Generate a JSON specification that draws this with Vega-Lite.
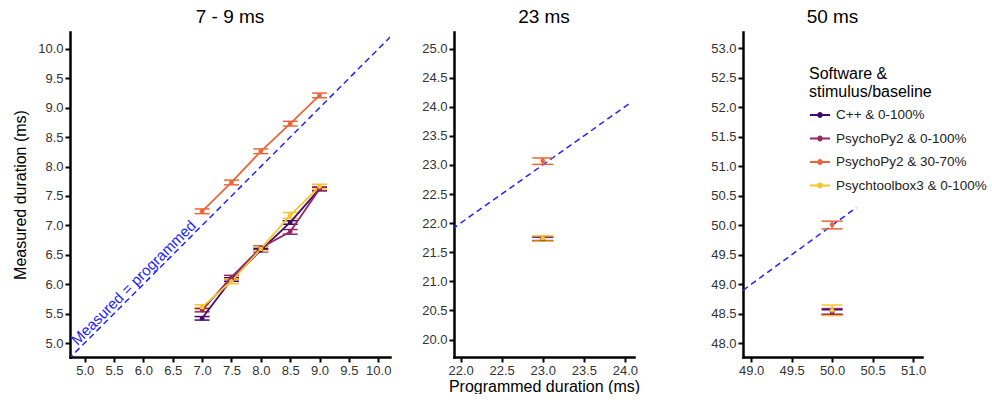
{
  "$schema": "https://vega.github.io/schema/vega-lite/v6.json",
  "padding": {"left": 12, "top": 8, "right": 0, "bottom": 0},
  "config": {
    "view": {"stroke": null},
    "font": "Liberation Sans",
    "title": {"fontSize": 19, "fontWeight": "normal", "color": "black", "offset": 5, "anchor": "middle"},
    "axis": {"grid": false, "labelOverlap": false, "domainColor": "black", "domainWidth": 2.5, "domainCap": "square", "tickColor": "black", "tickWidth": 2, "tickSize": 5, "labelColor": "#333333", "labelFontSize": 13, "titleFontSize": 16, "titleFontWeight": "normal", "titleColor": "black"},
    "axisX": {"labelPadding": 2, "titlePadding": 1},
    "axisY": {"labelPadding": 2, "titlePadding": 9},
    "tick": {"opacity": 1},
    "rule": {"opacity": 1}
  },
  "datasets": {
    "obs": [
      {"panel": "p1", "software": "C++ & 0-100%", "programmed": 7.0, "measured": 5.42, "lo": 5.39, "hi": 5.45},
      {"panel": "p1", "software": "C++ & 0-100%", "programmed": 7.5, "measured": 6.08, "lo": 6.05, "hi": 6.11},
      {"panel": "p1", "software": "C++ & 0-100%", "programmed": 8.0, "measured": 6.58, "lo": 6.55, "hi": 6.61},
      {"panel": "p1", "software": "C++ & 0-100%", "programmed": 8.5, "measured": 7.05, "lo": 7.02, "hi": 7.08},
      {"panel": "p1", "software": "C++ & 0-100%", "programmed": 9.0, "measured": 7.62, "lo": 7.59, "hi": 7.65},
      {"panel": "p1", "software": "PsychoPy2 & 0-100%", "programmed": 7.0, "measured": 5.56, "lo": 5.53, "hi": 5.59},
      {"panel": "p1", "software": "PsychoPy2 & 0-100%", "programmed": 7.5, "measured": 6.12, "lo": 6.09, "hi": 6.15},
      {"panel": "p1", "software": "PsychoPy2 & 0-100%", "programmed": 8.0, "measured": 6.62, "lo": 6.59, "hi": 6.65},
      {"panel": "p1", "software": "PsychoPy2 & 0-100%", "programmed": 8.5, "measured": 6.89, "lo": 6.85, "hi": 6.93},
      {"panel": "p1", "software": "PsychoPy2 & 0-100%", "programmed": 9.0, "measured": 7.62, "lo": 7.59, "hi": 7.65},
      {"panel": "p1", "software": "PsychoPy2 & 30-70%", "programmed": 7.0, "measured": 7.24, "lo": 7.2, "hi": 7.28},
      {"panel": "p1", "software": "PsychoPy2 & 30-70%", "programmed": 7.5, "measured": 7.73, "lo": 7.69, "hi": 7.77},
      {"panel": "p1", "software": "PsychoPy2 & 30-70%", "programmed": 8.0, "measured": 8.26, "lo": 8.22, "hi": 8.3},
      {"panel": "p1", "software": "PsychoPy2 & 30-70%", "programmed": 8.5, "measured": 8.73, "lo": 8.69, "hi": 8.77},
      {"panel": "p1", "software": "PsychoPy2 & 30-70%", "programmed": 9.0, "measured": 9.21, "lo": 9.17, "hi": 9.25},
      {"panel": "p1", "software": "Psychtoolbox3 & 0-100%", "programmed": 7.0, "measured": 5.61, "lo": 5.57, "hi": 5.65},
      {"panel": "p1", "software": "Psychtoolbox3 & 0-100%", "programmed": 7.5, "measured": 6.05, "lo": 6.01, "hi": 6.09},
      {"panel": "p1", "software": "Psychtoolbox3 & 0-100%", "programmed": 8.0, "measured": 6.6, "lo": 6.56, "hi": 6.64},
      {"panel": "p1", "software": "Psychtoolbox3 & 0-100%", "programmed": 8.5, "measured": 7.17, "lo": 7.12, "hi": 7.22},
      {"panel": "p1", "software": "Psychtoolbox3 & 0-100%", "programmed": 9.0, "measured": 7.66, "lo": 7.62, "hi": 7.7},
      {"panel": "p2", "software": "C++ & 0-100%", "programmed": 23.0, "measured": 21.73, "lo": 21.7, "hi": 21.76},
      {"panel": "p2", "software": "PsychoPy2 & 0-100%", "programmed": 23.0, "measured": 21.73, "lo": 21.69, "hi": 21.77},
      {"panel": "p2", "software": "PsychoPy2 & 30-70%", "programmed": 23.0, "measured": 23.07, "lo": 23.01, "hi": 23.12},
      {"panel": "p2", "software": "Psychtoolbox3 & 0-100%", "programmed": 23.0, "measured": 21.74, "lo": 21.69, "hi": 21.78},
      {"panel": "p3", "software": "C++ & 0-100%", "programmed": 50.0, "measured": 48.53, "lo": 48.49, "hi": 48.57},
      {"panel": "p3", "software": "PsychoPy2 & 0-100%", "programmed": 50.0, "measured": 48.54, "lo": 48.49, "hi": 48.59},
      {"panel": "p3", "software": "PsychoPy2 & 30-70%", "programmed": 50.0, "measured": 50.01, "lo": 49.94, "hi": 50.07},
      {"panel": "p3", "software": "Psychtoolbox3 & 0-100%", "programmed": 50.0, "measured": 48.56, "lo": 48.47, "hi": 48.65}
    ],
    "ref": [
      {"panel": "p1", "v": 4.6}, {"panel": "p1", "v": 10.4},
      {"panel": "p2", "v": 21.8}, {"panel": "p2", "v": 24.07},
      {"panel": "p3", "v": 48.8}, {"panel": "p3", "v": 50.3}
    ],
    "annot": [
      {"panel": "p1", "v": 5.93, "label": "Measured = programmed"}
    ]
  },
  "resolve": {"legend": {"color": "independent"}},
  "spacing": 10,
  "bounds": "flush",
  "hconcat": [
    {
      "width": 320, "height": 325,
      "title": "7 - 9 ms",
      "layer": [
        {
          "data": {"name": "ref"},
          "transform": [{"filter": "datum.panel == 'p1'"}],
          "mark": {"type": "line", "clip": true, "color": "#2222ff", "strokeDash": [6, 4], "strokeWidth": 1.5},
          "encoding": {
            "x": {"field": "v", "type": "quantitative", "title": null, "scale": {"domain": [4.75, 10.2], "nice": false, "zero": false}, "axis": {"values": [5, 5.5, 6, 6.5, 7, 7.5, 8, 8.5, 9, 9.5, 10], "format": ".1f", "labelOverlap": false}},
            "y": {"field": "v", "type": "quantitative", "title": "Measured duration (ms)", "scale": {"domain": [4.762, 10.289], "nice": false, "zero": false}, "axis": {"values": [5, 5.5, 6, 6.5, 7, 7.5, 8, 8.5, 9, 9.5, 10], "format": ".1f", "labelOverlap": false}}
          }
        },
        {
          "data": {"name": "annot"},
          "mark": {"type": "text", "color": "#2222ff", "fontSize": 15, "angle": 315, "align": "center", "baseline": "alphabetic", "dy": -3},
          "encoding": {
            "x": {"field": "v", "type": "quantitative", "title": null, "axis": {"values": [5, 5.5, 6, 6.5, 7, 7.5, 8, 8.5, 9, 9.5, 10], "format": ".1f", "labelOverlap": false}},
            "y": {"field": "v", "type": "quantitative", "title": "Measured duration (ms)", "axis": {"values": [5, 5.5, 6, 6.5, 7, 7.5, 8, 8.5, 9, 9.5, 10], "format": ".1f", "labelOverlap": false}},
            "text": {"field": "label"}
          }
        },
        {
          "data": {"name": "obs"},
          "transform": [{"filter": "datum.panel == 'p1'"}],
          "mark": {"type": "rule", "strokeWidth": 1.5},
          "encoding": {
            "x": {"field": "programmed", "type": "quantitative", "title": null, "axis": {"values": [5, 5.5, 6, 6.5, 7, 7.5, 8, 8.5, 9, 9.5, 10], "format": ".1f", "labelOverlap": false}},
            "y": {"field": "lo", "type": "quantitative", "title": "Measured duration (ms)", "axis": {"values": [5, 5.5, 6, 6.5, 7, 7.5, 8, 8.5, 9, 9.5, 10], "format": ".1f", "labelOverlap": false}},
            "y2": {"field": "hi"},
            "color": {"field": "software", "type": "nominal", "legend": null, "scale": {"domain": ["C++ & 0-100%", "PsychoPy2 & 0-100%", "PsychoPy2 & 30-70%", "Psychtoolbox3 & 0-100%"], "range": ["#420a68", "#932667", "#e9663a", "#f7c42c"]}}
          }
        },
        {
          "data": {"name": "obs"},
          "transform": [{"filter": "datum.panel == 'p1'"}],
          "mark": {"type": "tick", "orient": "horizontal", "thickness": 1.5, "size": 15},
          "encoding": {
            "x": {"field": "programmed", "type": "quantitative", "title": null, "axis": {"values": [5, 5.5, 6, 6.5, 7, 7.5, 8, 8.5, 9, 9.5, 10], "format": ".1f", "labelOverlap": false}},
            "y": {"field": "lo", "type": "quantitative", "title": "Measured duration (ms)", "axis": {"values": [5, 5.5, 6, 6.5, 7, 7.5, 8, 8.5, 9, 9.5, 10], "format": ".1f", "labelOverlap": false}},
            "color": {"field": "software", "type": "nominal", "legend": null}
          }
        },
        {
          "data": {"name": "obs"},
          "transform": [{"filter": "datum.panel == 'p1'"}],
          "mark": {"type": "tick", "orient": "horizontal", "thickness": 1.5, "size": 15},
          "encoding": {
            "x": {"field": "programmed", "type": "quantitative", "title": null, "axis": {"values": [5, 5.5, 6, 6.5, 7, 7.5, 8, 8.5, 9, 9.5, 10], "format": ".1f", "labelOverlap": false}},
            "y": {"field": "hi", "type": "quantitative", "title": "Measured duration (ms)", "axis": {"values": [5, 5.5, 6, 6.5, 7, 7.5, 8, 8.5, 9, 9.5, 10], "format": ".1f", "labelOverlap": false}},
            "color": {"field": "software", "type": "nominal", "legend": null}
          }
        },
        {
          "data": {"name": "obs"},
          "transform": [{"filter": "datum.panel == 'p1'"}],
          "mark": {"type": "line", "strokeWidth": 1.8},
          "encoding": {
            "x": {"field": "programmed", "type": "quantitative", "title": null, "axis": {"values": [5, 5.5, 6, 6.5, 7, 7.5, 8, 8.5, 9, 9.5, 10], "format": ".1f", "labelOverlap": false}},
            "y": {"field": "measured", "type": "quantitative", "title": "Measured duration (ms)", "axis": {"values": [5, 5.5, 6, 6.5, 7, 7.5, 8, 8.5, 9, 9.5, 10], "format": ".1f", "labelOverlap": false}},
            "color": {"field": "software", "type": "nominal", "legend": null}
          }
        },
        {
          "data": {"name": "obs"},
          "transform": [{"filter": "datum.panel == 'p1'"}],
          "mark": {"type": "point", "filled": true, "size": 22, "opacity": 1},
          "encoding": {
            "x": {"field": "programmed", "type": "quantitative", "title": null, "axis": {"values": [5, 5.5, 6, 6.5, 7, 7.5, 8, 8.5, 9, 9.5, 10], "format": ".1f", "labelOverlap": false}},
            "y": {"field": "measured", "type": "quantitative", "title": "Measured duration (ms)", "axis": {"values": [5, 5.5, 6, 6.5, 7, 7.5, 8, 8.5, 9, 9.5, 10], "format": ".1f", "labelOverlap": false}},
            "color": {"field": "software", "type": "nominal", "legend": null}
          }
        }
      ]
    },
    {"width": 44, "height": 325, "data": {"values": []}, "mark": "point"},
    {
      "width": 180, "height": 325,
      "title": "23 ms",
      "layer": [
        {
          "data": {"name": "ref"},
          "transform": [{"filter": "datum.panel == 'p2'"}],
          "mark": {"type": "line", "clip": true, "color": "#2222ff", "strokeDash": [6, 4], "strokeWidth": 1.5},
          "encoding": {
            "x": {"field": "v", "type": "quantitative", "title": "Programmed duration (ms)", "scale": {"domain": [21.92, 24.11], "nice": false, "zero": false}, "axis": {"values": [22, 22.5, 23, 23.5, 24], "format": ".1f", "labelOverlap": false}},
            "y": {"field": "v", "type": "quantitative", "title": null, "scale": {"domain": [19.7, 25.284], "nice": false, "zero": false}, "axis": {"values": [20, 20.5, 21, 21.5, 22, 22.5, 23, 23.5, 24, 24.5, 25], "format": ".1f", "labelOverlap": false}}
          }
        },
        {
          "data": {"name": "obs"},
          "transform": [{"filter": "datum.panel == 'p2'"}],
          "mark": {"type": "rule", "strokeWidth": 1.5},
          "encoding": {
            "x": {"field": "programmed", "type": "quantitative", "title": "Programmed duration (ms)", "axis": {"values": [22, 22.5, 23, 23.5, 24], "format": ".1f", "labelOverlap": false}},
            "y": {"field": "lo", "type": "quantitative", "title": null, "axis": {"values": [20, 20.5, 21, 21.5, 22, 22.5, 23, 23.5, 24, 24.5, 25], "format": ".1f", "labelOverlap": false}},
            "y2": {"field": "hi"},
            "color": {"field": "software", "type": "nominal", "legend": null}
          }
        },
        {
          "data": {"name": "obs"},
          "transform": [{"filter": "datum.panel == 'p2'"}],
          "mark": {"type": "tick", "orient": "horizontal", "thickness": 1.5, "size": 21},
          "encoding": {
            "x": {"field": "programmed", "type": "quantitative", "title": "Programmed duration (ms)", "axis": {"values": [22, 22.5, 23, 23.5, 24], "format": ".1f", "labelOverlap": false}},
            "y": {"field": "lo", "type": "quantitative", "title": null, "axis": {"values": [20, 20.5, 21, 21.5, 22, 22.5, 23, 23.5, 24, 24.5, 25], "format": ".1f", "labelOverlap": false}},
            "color": {"field": "software", "type": "nominal", "legend": null}
          }
        },
        {
          "data": {"name": "obs"},
          "transform": [{"filter": "datum.panel == 'p2'"}],
          "mark": {"type": "tick", "orient": "horizontal", "thickness": 1.5, "size": 21},
          "encoding": {
            "x": {"field": "programmed", "type": "quantitative", "title": "Programmed duration (ms)", "axis": {"values": [22, 22.5, 23, 23.5, 24], "format": ".1f", "labelOverlap": false}},
            "y": {"field": "hi", "type": "quantitative", "title": null, "axis": {"values": [20, 20.5, 21, 21.5, 22, 22.5, 23, 23.5, 24, 24.5, 25], "format": ".1f", "labelOverlap": false}},
            "color": {"field": "software", "type": "nominal", "legend": null}
          }
        },
        {
          "data": {"name": "obs"},
          "transform": [{"filter": "datum.panel == 'p2'"}],
          "mark": {"type": "point", "filled": true, "size": 22, "opacity": 1},
          "encoding": {
            "x": {"field": "programmed", "type": "quantitative", "title": "Programmed duration (ms)", "axis": {"values": [22, 22.5, 23, 23.5, 24], "format": ".1f", "labelOverlap": false}},
            "y": {"field": "measured", "type": "quantitative", "title": null, "axis": {"values": [20, 20.5, 21, 21.5, 22, 22.5, 23, 23.5, 24, 24.5, 25], "format": ".1f", "labelOverlap": false}},
            "color": {"field": "software", "type": "nominal", "legend": null}
          }
        }
      ]
    },
    {"width": 89, "height": 325, "data": {"values": []}, "mark": "point"},
    {
      "width": 179, "height": 325,
      "title": "50 ms",
      "layer": [
        {
          "data": {"name": "ref"},
          "transform": [{"filter": "datum.panel == 'p3'"}],
          "mark": {"type": "line", "clip": true, "color": "#2222ff", "strokeDash": [6, 4], "strokeWidth": 1.5},
          "encoding": {
            "x": {"field": "v", "type": "quantitative", "title": null, "scale": {"domain": [48.9, 51.11], "nice": false, "zero": false}, "axis": {"values": [49, 49.5, 50, 50.5, 51], "format": ".1f", "labelOverlap": false}},
            "y": {"field": "v", "type": "quantitative", "title": null, "scale": {"domain": [47.77, 53.273], "nice": false, "zero": false}, "axis": {"values": [48, 48.5, 49, 49.5, 50, 50.5, 51, 51.5, 52, 52.5, 53], "format": ".1f", "labelOverlap": false}}
          }
        },
        {
          "data": {"name": "obs"},
          "transform": [{"filter": "datum.panel == 'p3'"}],
          "mark": {"type": "rule", "strokeWidth": 1.5},
          "encoding": {
            "x": {"field": "programmed", "type": "quantitative", "title": null, "axis": {"values": [49, 49.5, 50, 50.5, 51], "format": ".1f", "labelOverlap": false}},
            "y": {"field": "lo", "type": "quantitative", "title": null, "axis": {"values": [48, 48.5, 49, 49.5, 50, 50.5, 51, 51.5, 52, 52.5, 53], "format": ".1f", "labelOverlap": false}},
            "y2": {"field": "hi"},
            "color": {
              "field": "software", "type": "nominal",
              "legend": {
                "orient": "none", "legendX": 66, "legendY": 34,
                "title": ["Software &", "stimulus/baseline"],
                "titleFontSize": 16, "titleFontWeight": "normal", "titleColor": "black", "titleLineHeight": 18, "titlePadding": 4,
                "labelFontSize": 13.5, "labelColor": "#222222", "labelOffset": 5,
                "symbolType": "M-1,0L1,0M-0.2,0A0.2,0.2,0,1,1,0.2,0A0.2,0.2,0,1,1,-0.2,0Z",
                "symbolSize": 400, "symbolStrokeWidth": 1.8, "rowPadding": 5.5, "padding": 0,
                "encode": {"symbols": {"update": {"fill": {"scale": "color", "field": "value"}, "stroke": {"scale": "color", "field": "value"}, "opacity": {"value": 1}}}}
              }
            }
          }
        },
        {
          "data": {"name": "obs"},
          "transform": [{"filter": "datum.panel == 'p3'"}],
          "mark": {"type": "tick", "orient": "horizontal", "thickness": 1.5, "size": 21},
          "encoding": {
            "x": {"field": "programmed", "type": "quantitative", "title": null, "axis": {"values": [49, 49.5, 50, 50.5, 51], "format": ".1f", "labelOverlap": false}},
            "y": {"field": "lo", "type": "quantitative", "title": null, "axis": {"values": [48, 48.5, 49, 49.5, 50, 50.5, 51, 51.5, 52, 52.5, 53], "format": ".1f", "labelOverlap": false}},
            "color": {"field": "software", "type": "nominal"}
          }
        },
        {
          "data": {"name": "obs"},
          "transform": [{"filter": "datum.panel == 'p3'"}],
          "mark": {"type": "tick", "orient": "horizontal", "thickness": 1.5, "size": 21},
          "encoding": {
            "x": {"field": "programmed", "type": "quantitative", "title": null, "axis": {"values": [49, 49.5, 50, 50.5, 51], "format": ".1f", "labelOverlap": false}},
            "y": {"field": "hi", "type": "quantitative", "title": null, "axis": {"values": [48, 48.5, 49, 49.5, 50, 50.5, 51, 51.5, 52, 52.5, 53], "format": ".1f", "labelOverlap": false}},
            "color": {"field": "software", "type": "nominal"}
          }
        },
        {
          "data": {"name": "obs"},
          "transform": [{"filter": "datum.panel == 'p3'"}],
          "mark": {"type": "point", "filled": true, "size": 22, "opacity": 1},
          "encoding": {
            "x": {"field": "programmed", "type": "quantitative", "title": null, "axis": {"values": [49, 49.5, 50, 50.5, 51], "format": ".1f", "labelOverlap": false}},
            "y": {"field": "measured", "type": "quantitative", "title": null, "axis": {"values": [48, 48.5, 49, 49.5, 50, 50.5, 51, 51.5, 52, 52.5, 53], "format": ".1f", "labelOverlap": false}},
            "color": {"field": "software", "type": "nominal"}
          }
        }
      ]
    }
  ]
}
